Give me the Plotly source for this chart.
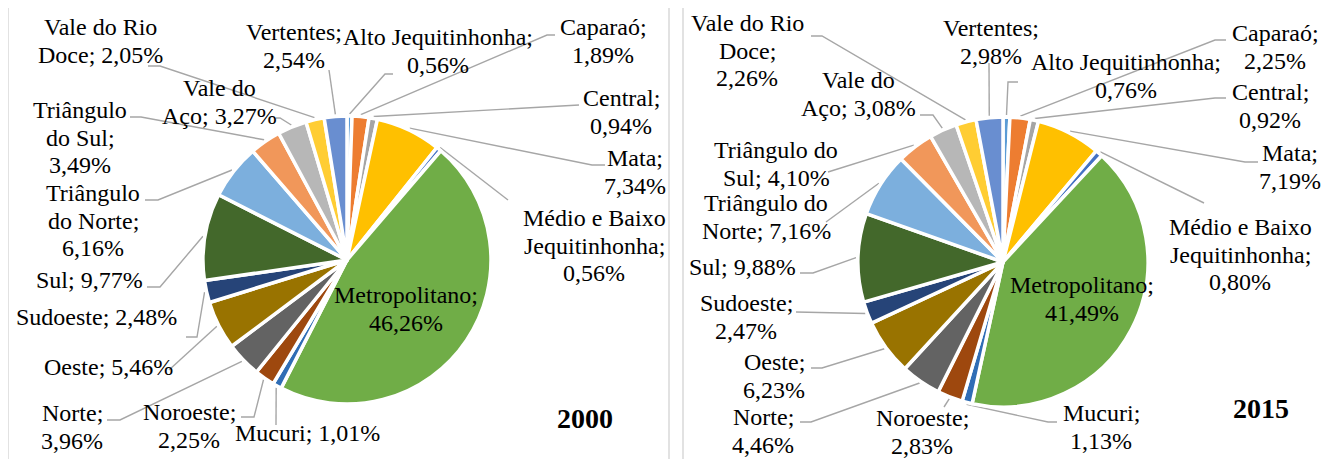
import math
import plotly.graph_objects as go

# ---------------- data ----------------
regions = ["Alto Jequitinhonha", "Caparaó", "Central", "Mata", "Médio e Baixo Jequitinhonha",
           "Metropolitano", "Mucuri", "Noroeste", "Norte", "Oeste", "Sudoeste", "Sul",
           "Triângulo do Norte", "Triângulo do Sul", "Vale do Aço", "Vale do Rio Doce", "Vertentes"]
values_2000 = [0.56, 1.89, 0.94, 7.34, 0.56, 46.26, 1.01, 2.25, 3.96, 5.46, 2.48, 9.77,
               6.16, 3.49, 3.27, 2.05, 2.54]
values_2015 = [0.76, 2.25, 0.92, 7.19, 0.80, 41.49, 1.13, 2.83, 4.46, 6.23, 2.47, 9.88,
               7.16, 4.10, 3.08, 2.26, 2.98]
years = ["2000", "2015"]

# ---------------- styles ----------------
colors = ["#5B9BD5", "#ED7D31", "#A5A5A5", "#FFC000", "#4472C4", "#70AD47", "#2F6DB5",
          "#9E480E", "#636363", "#997300", "#264478", "#43682B", "#7CAFDD", "#F1975A",
          "#B7B7B7", "#FFCD33", "#698ED0"]

W, H = 1335, 459
OFF = 8            # page offset of the plot inside the browser window
FONT = "Liberation Serif"
FONT_SIZE = 24
LINE_GAP = 27.5

# layout per panel: pie centre/radius, word-wrap of each label, label position
# (centre x, first-line y) and the label-side leader-line points (screen px)
panels = [
    dict(cx=347, cy=260, r=144, year_xy=(585, 418),
         wraps=[[2, 1], [1, 1], [1, 1], [1, 1], [3, 1, 1], [1, 1], [2], [1, 1], [1, 1], [2], [2],
                [2], [1, 2, 1], [1, 2, 1], [2, 2], [3, 2], [1, 1]],
         pos=[(438, 37), (603, 27), (621, 98), (635, 158), (594, 218), (406, 295), (307, 433),
              (189, 412), (72, 413), (108, 367), (96, 317), (89, 280), (93, 193), (80, 110),
              (219, 88), (100, 27), (294, 32)],
         leads=[[(393, 74), (385, 74)], [(555, 35), (547, 35)], [(579, 105)],
                [(605, 165), (592, 165)], [(508, 200)], None, [(276, 425)],
                [(241, 417), (254, 417)], [(107, 420), (120, 420)], [(169, 370)],
                [(186, 337), (197, 337)], [(147, 287), (160, 287)], [(145, 200), (158, 200)],
                [(130, 117), (141, 117)], [(276, 118), (280, 118)], [(148, 66), (160, 66)],
                [(329, 70)]]),
    dict(cx=1003, cy=262, r=145, year_xy=(1261, 408),
         wraps=[[2, 1], [1, 1], [1, 1], [1, 1], [3, 1, 1], [1, 1], [1, 1], [1, 1], [1, 1], [1, 1],
                [1, 1], [2], [2, 2], [2, 2], [2, 2], [3, 1, 1], [1, 1]],
         pos=[(1126, 62), (1275, 33), (1270, 92), (1290, 153), (1240, 227), (1082, 285),
              (1101, 413), (922, 418), (763, 417), (774, 362), (746, 303), (742, 267),
              (766, 203), (776, 150), (858, 80), (747, 23), (991, 28)],
         leads=[[(1018, 82), (1008, 82)], [(1226, 40), (1215, 40)], [(1226, 98), (1215, 98)],
                [(1258, 162), (1245, 162)], [(1204, 203)], None, [(1057, 422), (1048, 422)],
                [(944, 407)], [(800, 422), (811, 422)], [(811, 368), (822, 368)], [(796, 312)],
                [(800, 273), (813, 273)], [(826, 222)], [(828, 172)], [(920, 115), (933, 115)],
                [(811, 36), (822, 36)], [(989, 63)]]),
]

fig = go.Figure()
annotations = []
shapes = []

# panel borders
for x0, x1 in [(8, 669), (683, 1332)]:
    shapes.append(dict(type="rect", xref="x", yref="y", x0=x0, x1=x1, y0=4, y1=490,
                       line=dict(color="#D9D9D9", width=1.5), fillcolor="rgba(0,0,0,0)",
                       layer="below"))

for values, year, p in zip([values_2000, values_2015], years, panels):
    cx, cy, r = p["cx"], p["cy"], p["r"]
    fx, fy = cx - OFF, cy - OFF
    fig.add_trace(go.Pie(
        labels=regions, values=values, sort=False, direction="clockwise", rotation=0,
        marker=dict(colors=colors, line=dict(color="white", width=3.5)),
        textinfo="none", hoverinfo="label+percent", showlegend=False,
        domain=dict(x=[(fx - r) / W, (fx + r) / W], y=[1 - (fy + r) / H, 1 - (fy - r) / H]),
    ))

    total = sum(values)
    cum = 0.0
    lx, ly = [], []
    for i, (name, v) in enumerate(zip(regions, values)):
        mid = (cum + v / 2) / total * 2 * math.pi
        cum += v
        text = f"{name}; {v:.2f}%".replace(".", ",")
        words = text.split(" ")
        k = 0
        x0, y0 = p["pos"][i]
        for j, n in enumerate(p["wraps"][i]):
            line = " ".join(words[k:k + n])
            k += n
            annotations.append(dict(x=x0, y=y0 + j * LINE_GAP, xref="x", yref="y", text=line,
                                    showarrow=False, xanchor="center", yanchor="middle",
                                    font=dict(family=FONT, size=FONT_SIZE, color="black")))
        if p["leads"][i]:
            px = cx + (r + 2) * math.sin(mid)
            py = cy - (r + 2) * math.cos(mid)
            pts = p["leads"][i] + [(px, py)]
            lx += [q[0] for q in pts] + [None]
            ly += [q[1] for q in pts] + [None]
    fig.add_trace(go.Scatter(x=lx, y=ly, mode="lines", line=dict(color="#A6A6A6", width=1.4),
                             hoverinfo="skip", showlegend=False))
    annotations.append(dict(x=p["year_xy"][0], y=p["year_xy"][1], xref="x", yref="y",
                            text=f"<b>{year}</b>", showarrow=False, xanchor="center",
                            yanchor="middle", font=dict(family=FONT, size=28, color="black")))

fig.update_layout(
    width=W, height=H, margin=dict(l=0, r=0, t=0, b=0),
    paper_bgcolor="white", plot_bgcolor="white",
    font=dict(family=FONT),
    xaxis=dict(range=[OFF, W + OFF], visible=False, fixedrange=True, domain=[0, 1]),
    yaxis=dict(range=[H + OFF, OFF], visible=False, fixedrange=True, domain=[0, 1]),
    annotations=annotations, shapes=shapes,
)
fig.write_html("out.html")
